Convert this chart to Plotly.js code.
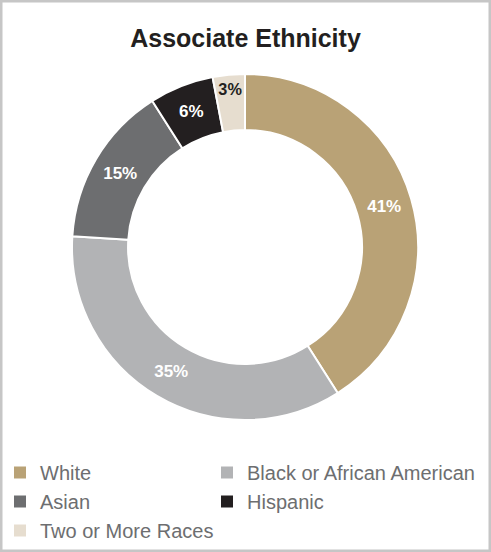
<!DOCTYPE html>
<html>
<head>
<meta charset="utf-8">
<script src="https://cdn.plot.ly/plotly-3.0.1.min.js"></script>
<style>
  html, body { margin: 0; padding: 0; background: #ffffff; }
  #chart { width: 491px; height: 552px; }
  #chart .legend .scrollbox { clip-path: none !important; }
  #chart .legend path.legendpie { d: path("M7,7H-7V-7H7Z"); }
</style>
</head>
<body>
<div id="chart"></div>
<script>
const categories = ["White", "Black or African American", "Asian", "Hispanic", "Two or More Races"];
const values = [41, 35, 15, 6, 3];
const sliceColors = ["#b9a276", "#b2b3b5", "#6d6e70", "#231f20", "#e6ddcf"];
const labelColors = ["#ffffff", "#ffffff", "#ffffff", "#ffffff", "#231f20"];
const chartTitle = "Associate Ethnicity";

const W = 491, H = 552;
const cx = 245, cy = 247, R = 173;

const trace = {
  type: "pie",
  labels: categories,
  values: values,
  sort: false,
  direction: "clockwise",
  rotation: 0,
  hole: 0.676,
  marker: { colors: sliceColors, line: { color: "#ffffff", width: 2 } },
  texttemplate: "%{value}%",
  textposition: "inside",
  insidetextorientation: "horizontal",
  textfont: { family: "Liberation Sans, Arial, sans-serif", size: 17, color: labelColors, weight: "bold" },
  hoverinfo: "label+percent",
  domain: {
    x: [(cx - R) / W, (cx + R) / W],
    y: [(H - (cy + R)) / H, (H - (cy - R)) / H]
  }
};

const layout = {
  width: W,
  height: H,
  margin: { l: 0, r: 0, t: 0, b: 0, autoexpand: false },
  paper_bgcolor: "#ffffff",
  plot_bgcolor: "#ffffff",
  font: { family: "Liberation Sans, Arial, sans-serif" },
  title: {
    text: "<b>" + chartTitle + "</b>",
    font: { family: "Liberation Sans, Arial, sans-serif", size: 25, color: "#231f20" },
    x: 0.5, xanchor: "center",
    y: 1 - 38 / H, yanchor: "middle"
  },
  showlegend: true,
  legend: {
    orientation: "h",
    x: 0, xanchor: "left",
    y: 1 - 453 / H, yanchor: "top",
    entrywidth: 162,
    entrywidthmode: "pixels",
    traceorder: "normal",
    bgcolor: "rgba(0,0,0,0)",
    borderwidth: 0,
    font: { family: "Liberation Sans, Arial, sans-serif", size: 20, color: "#6d6e70" },
    itemclick: false,
    tracegroupgap: 0
  },
  shapes: [{
    type: "rect", xref: "paper", yref: "paper",
    x0: 1.25 / W, x1: 1 - 1.25 / W, y0: 1.25 / H, y1: 1 - 1.25 / H,
    line: { color: "#c6c6c6", width: 2.5 }
  }]
};

Plotly.newPlot("chart", [trace], layout, { displayModeBar: false, staticPlot: true });
</script>
</body>
</html>
